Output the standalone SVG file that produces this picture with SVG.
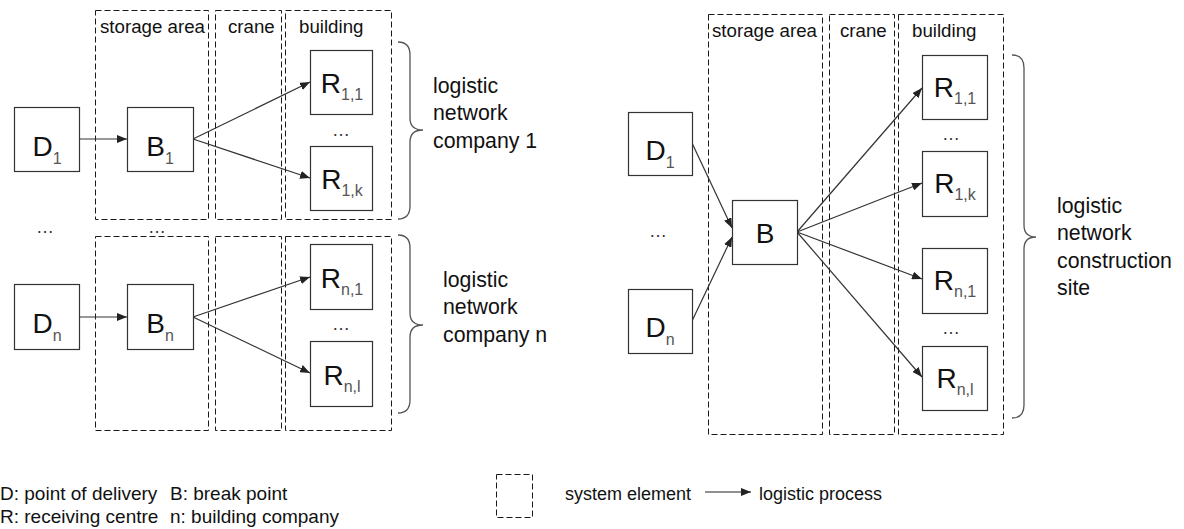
<svg xmlns="http://www.w3.org/2000/svg" width="1184" height="529" viewBox="0 0 1184 529">
  <defs>
    <marker id="arrow" viewBox="0 0 10 8" refX="10" refY="4" markerWidth="10" markerHeight="8" markerUnits="userSpaceOnUse" orient="auto">
      <path d="M0,0 L10,4 L0,8 Z" fill="#222"/>
    </marker>
    <style>
      text { font-family: "Liberation Sans", Arial, sans-serif; fill: #111; }
      .zone { fill: none; stroke: #1a1a1a; stroke-width: 1; stroke-dasharray: 6 3; }
      .node rect { fill: #fff; stroke: #333; stroke-width: 1.2; }
      .lbl { font-size: 28px; text-anchor: middle; }
      .sub { font-size: 16px; fill: #555; }
      .hdr { font-size: 18.7px; }
      .note { font-size: 21.3px; }
      .dots { font-size: 18px; text-anchor: middle; fill: #333; }
      .legend { font-size: 19px; }
      .legend-s { font-size: 18px; }
      .brace { fill: none; stroke: #555; stroke-width: 1.3; }
      .flow line { stroke: #333; stroke-width: 1.2; marker-end: url(#arrow); }
    </style>
  </defs>

  <rect width="1184" height="529" fill="#fff"/>

  <!-- system elements (dashed zones) -->
  <g id="zones">
    <rect class="zone" x="95.5" y="10.5" width="113" height="209"/>
    <rect class="zone" x="215.5" y="10.5" width="66" height="209"/>
    <rect class="zone" x="285.5" y="10.5" width="106" height="209"/>
    <rect class="zone" x="95.5" y="236.5" width="113" height="194"/>
    <rect class="zone" x="215.5" y="236.5" width="66" height="194"/>
    <rect class="zone" x="285.5" y="236.5" width="106" height="194"/>
    <rect class="zone" x="708.5" y="14.5" width="114" height="420"/>
    <rect class="zone" x="829.5" y="14.5" width="65" height="420"/>
    <rect class="zone" x="898.5" y="14.5" width="105" height="420"/>
  </g>

  <g id="zone-labels">
    <text class="hdr" x="100" y="33">storage area</text>
    <text class="hdr" x="228" y="33">crane</text>
    <text class="hdr" x="299" y="33">building</text>
    <text class="hdr" x="712" y="37">storage area</text>
    <text class="hdr" x="840" y="37">crane</text>
    <text class="hdr" x="912" y="37">building</text>
  </g>

  <!-- connectors -->
  <g id="connectors" class="flow">
    <line x1="79" y1="139" x2="127" y2="139"/>
    <line x1="193" y1="139" x2="310" y2="82"/>
    <line x1="193" y1="139" x2="310" y2="178"/>
    <line x1="79" y1="317" x2="127" y2="317"/>
    <line x1="193" y1="317" x2="310" y2="277"/>
    <line x1="193" y1="317" x2="310" y2="373"/>
    <line x1="692" y1="143" x2="732" y2="228"/>
    <line x1="692" y1="321" x2="732" y2="237"/>
    <line x1="797" y1="232" x2="922" y2="88"/>
    <line x1="797" y1="232" x2="922" y2="183"/>
    <line x1="797" y1="232" x2="922" y2="279"/>
    <line x1="797" y1="232" x2="922" y2="377"/>
  </g>

  <!-- company networks -->
  <g id="D1-left" class="node"><rect x="14.5" y="107.5" width="65" height="64"/><text class="lbl" x="47" y="156">D<tspan class="sub" dy="8">1</tspan></text></g>
  <g id="B1-left" class="node"><rect x="127.5" y="107.5" width="66" height="64"/><text class="lbl" x="160" y="156">B<tspan class="sub" dy="8">1</tspan></text></g>
  <g id="R11-left" class="node"><rect x="310.5" y="50.5" width="62" height="64"/><text class="lbl" x="342" y="93">R<tspan class="sub" dy="7">1,1</tspan></text></g>
  <g id="R1k-left" class="node"><rect x="310.5" y="146.5" width="62" height="64"/><text class="lbl" x="342" y="189">R<tspan class="sub" dy="7">1,k</tspan></text></g>
  <g id="Dn-left" class="node"><rect x="14.5" y="284.5" width="65" height="65"/><text class="lbl" x="47" y="333">D<tspan class="sub" dy="8">n</tspan></text></g>
  <g id="Bn-left" class="node"><rect x="127.5" y="284.5" width="66" height="65"/><text class="lbl" x="160" y="333">B<tspan class="sub" dy="8">n</tspan></text></g>
  <g id="Rn1-left" class="node"><rect x="310.5" y="244.5" width="62" height="65"/><text class="lbl" x="342" y="288">R<tspan class="sub" dy="7">n,1</tspan></text></g>
  <g id="Rnl-left" class="node"><rect x="310.5" y="341.5" width="62" height="65"/><text class="lbl" x="342" y="385">R<tspan class="sub" dy="7">n,l</tspan></text></g>

  <!-- construction site network -->
  <g id="D1-right" class="node"><rect x="628.5" y="112.5" width="64" height="63"/><text class="lbl" x="660" y="160">D<tspan class="sub" dy="8">1</tspan></text></g>
  <g id="Dn-right" class="node"><rect x="628.5" y="289.5" width="64" height="64"/><text class="lbl" x="660" y="337">D<tspan class="sub" dy="8">n</tspan></text></g>
  <g id="B-right" class="node"><rect x="732.5" y="200.5" width="65" height="64"/><text class="lbl" x="765" y="243">B</text></g>
  <g id="R11-right" class="node"><rect x="922.5" y="55.5" width="65" height="64"/><text class="lbl" x="955" y="97">R<tspan class="sub" dy="7">1,1</tspan></text></g>
  <g id="R1k-right" class="node"><rect x="922.5" y="151.5" width="65" height="65"/><text class="lbl" x="955" y="193">R<tspan class="sub" dy="7">1,k</tspan></text></g>
  <g id="Rn1-right" class="node"><rect x="922.5" y="248.5" width="65" height="65"/><text class="lbl" x="955" y="290">R<tspan class="sub" dy="7">n,1</tspan></text></g>
  <g id="Rnl-right" class="node"><rect x="922.5" y="346.5" width="65" height="64"/><text class="lbl" x="955" y="388">R<tspan class="sub" dy="7">n,l</tspan></text></g>

  <!-- ellipses -->
  <g id="ellipses">
    <text class="dots" x="341" y="136">…</text>
    <text class="dots" x="341" y="330">…</text>
    <text class="dots" x="45" y="233">…</text>
    <text class="dots" x="157" y="233">…</text>
    <text class="dots" x="658" y="237">…</text>
    <text class="dots" x="951" y="140">…</text>
    <text class="dots" x="951" y="334">…</text>
  </g>

  <!-- braces and their notes -->
  <g id="brace-company-1">
    <path class="brace" d="M398,42 Q410,42 410,55 L410,118 Q410,130 423,130 Q410,130 410,142 L410,206 Q410,219 398,219"/>
    <text class="note" x="433" y="93">logistic</text>
    <text class="note" x="433" y="120">network</text>
    <text class="note" x="433" y="148">company 1</text>
  </g>
  <g id="brace-company-n">
    <path class="brace" d="M398,235 Q410,235 410,248 L410,313 Q410,325 423,325 Q410,325 410,337 L410,400 Q410,413 398,413"/>
    <text class="note" x="443" y="287">logistic</text>
    <text class="note" x="443" y="314">network</text>
    <text class="note" x="443" y="342">company n</text>
  </g>
  <g id="brace-site">
    <path class="brace" d="M1012,55 Q1024,55 1024,68 L1024,225 Q1024,237 1036,237 Q1024,237 1024,249 L1024,405 Q1024,418 1012,418"/>
    <text class="note" x="1057" y="213">logistic</text>
    <text class="note" x="1057" y="240">network</text>
    <text class="note" x="1057" y="268">construction</text>
    <text class="note" x="1057" y="295">site</text>
  </g>

  <!-- legend -->
  <g id="legend">
    <text class="legend" x="0" y="500">D: point of delivery</text>
    <text class="legend" x="170" y="500">B: break point</text>
    <text class="legend" x="0" y="523">R: receiving centre</text>
    <text class="legend" x="170" y="523">n: building company</text>
    <rect class="zone" x="496.5" y="474.5" width="36" height="43"/>
    <text class="legend-s" x="565" y="500">system element</text>
    <line x1="705" y1="492" x2="751" y2="492" stroke="#222" stroke-width="1.2" marker-end="url(#arrow)"/>
    <text class="legend-s" x="759" y="500">logistic process</text>
  </g>
</svg>
